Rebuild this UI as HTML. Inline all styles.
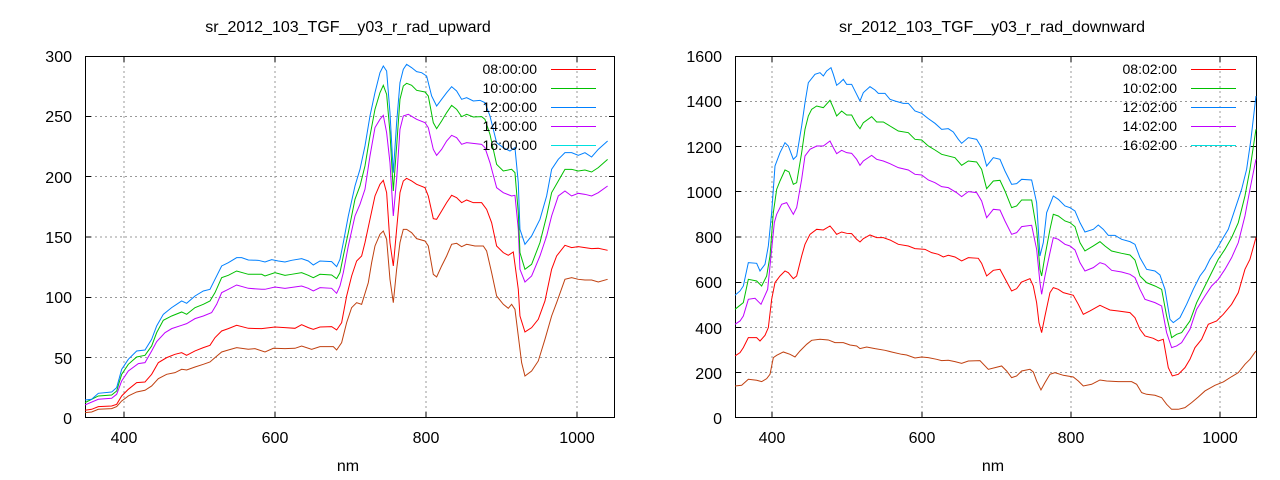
<!DOCTYPE html>
<html><head><meta charset="utf-8"><style>
html,body{margin:0;padding:0;background:#fff;}
svg{display:block;font-family:"Liberation Sans",sans-serif;}
</style></head><body>
<svg width="1280" height="480" viewBox="0 0 1280 480" xmlns="http://www.w3.org/2000/svg">
<rect width="1280" height="480" fill="#fff"/>
<g stroke="#999" stroke-dasharray="2,3" stroke-width="1" fill="none">
<path d="M124,56V418M275,56V418M426,56V418M577,56V418"/>
<path d="M85,357.5H615M85,297.5H615M85,237H615M85,176.5H615M85,116.5H615"/>
<path d="M772,56V418M922,56V418M1071,56V418M1220,56V418"/>
<path d="M735,372.5H1257M735,327.5H1257M735,282.5H1257M735,237H1257M735,191.5H1257M735,146.5H1257M735,101.5H1257"/>
</g>
<g stroke="#000" stroke-width="1" fill="none">
<rect x="85.5" y="56.5" width="529" height="361"/>
<rect x="735.5" y="56.5" width="521" height="361"/>
<path d="M124,418v-6M275,418v-6M426,418v-6M577,418v-6M124,56v6M275,56v6M426,56v6M577,56v6"/>
<path d="M85,357.5h6M85,297.5h6M85,237h6M85,176.5h6M85,116.5h6M615,357.5h-6M615,297.5h-6M615,237h-6M615,176.5h-6M615,116.5h-6"/>
<path d="M772,418v-6M922,418v-6M1071,418v-6M1220,418v-6M772,56v6M922,56v6M1071,56v6M1220,56v6"/>
<path d="M735,372.5h6M735,327.5h6M735,282.5h6M735,237h6M735,191.5h6M735,146.5h6M735,101.5h6M1257,372.5h-6M1257,327.5h-6M1257,282.5h-6M1257,237h-6M1257,191.5h-6M1257,146.5h-6M1257,101.5h-6"/>
</g>
<g font-size="16" fill="#000">
<text x="348" y="32" text-anchor="middle">sr_2012_103_TGF__y03_r_rad_upward</text>
<text x="992" y="32" text-anchor="middle">sr_2012_103_TGF__y03_r_rad_downward</text>
<text x="348" y="471" text-anchor="middle">nm</text>
<text x="993" y="471" text-anchor="middle">nm</text>
<g text-anchor="end">
<text x="72" y="424">0</text><text x="72" y="364">50</text><text x="72" y="303">100</text><text x="72" y="243">150</text><text x="72" y="183">200</text><text x="72" y="122">250</text><text x="72" y="62">300</text>
<text x="722" y="424">0</text><text x="722" y="379">200</text><text x="722" y="334">400</text><text x="722" y="288">600</text><text x="722" y="243">800</text><text x="722" y="198">1000</text><text x="722" y="153">1200</text><text x="722" y="107">1400</text><text x="722" y="62">1600</text>
</g>
<g text-anchor="middle">
<text x="124" y="443">400</text><text x="275" y="443">600</text><text x="426" y="443">800</text><text x="577" y="443">1000</text>
<text x="772" y="443">400</text><text x="922" y="443">600</text><text x="1071" y="443">800</text><text x="1220" y="443">1000</text>
</g>
</g>
<g fill="none" stroke-width="1">
<g transform="translate(85,56) scale(0.3333)">
<polyline vector-effect="non-scaling-stroke" stroke="#c04010" points="0,1070 20,1068 40,1060 80,1058 95,1052 110,1035 130,1020 155,1008 180,1003 200,990 220,968 245,955 270,950 290,940 305,942 330,933 355,925 375,918 390,905 410,888 430,882 455,875 490,880 510,878 540,888 565,877 600,878 630,877 650,870 680,880 705,872 745,872 755,882 770,860 785,800 800,755 815,740 830,745 850,680 860,620 870,570 885,535 895,525 905,550 915,670 925,740 935,640 945,560 955,520 965,520 980,530 995,548 1020,555 1030,570 1045,655 1055,663 1070,630 1085,600 1100,565 1115,562 1130,572 1145,565 1170,570 1195,570 1205,585 1220,650 1235,720 1255,745 1270,757 1280,745 1290,760 1300,840 1310,920 1320,960 1340,945 1360,915 1380,850 1400,780 1415,740 1440,670 1460,665 1480,670 1500,672 1520,672 1540,678 1568,670"/>
<polyline vector-effect="non-scaling-stroke" stroke="#ff0000" points="0,1063 20,1060 40,1052 80,1050 95,1045 110,1020 130,1000 155,980 180,978 200,955 220,920 245,905 270,895 290,890 305,898 330,885 355,875 375,868 390,845 410,825 430,818 455,808 490,817 530,818 570,813 600,815 630,817 650,806 670,815 685,820 705,813 740,812 755,822 770,800 785,720 800,660 815,615 830,600 840,560 855,490 870,420 885,385 895,373 905,410 915,560 925,630 935,520 945,410 955,375 965,367 980,375 995,385 1020,395 1030,420 1045,488 1055,490 1070,465 1085,440 1100,418 1115,425 1130,440 1145,432 1165,440 1190,440 1205,460 1220,500 1235,570 1255,590 1270,598 1285,588 1300,700 1305,780 1320,828 1340,815 1360,790 1380,735 1400,640 1415,600 1440,568 1460,575 1480,572 1500,575 1520,578 1540,577 1568,583"/>
<polyline vector-effect="non-scaling-stroke" stroke="#c000ff" points="0,1047 40,1030 80,1027 95,1015 110,975 130,945 160,923 180,920 200,885 215,857 240,830 260,818 290,808 305,803 330,788 355,780 380,770 395,745 410,710 430,700 455,687 490,697 530,700 540,700 570,693 600,697 650,690 670,697 685,705 705,695 740,697 755,712 765,690 775,650 790,570 810,480 825,445 840,400 855,300 870,215 885,190 895,178 905,230 915,320 925,480 935,370 945,220 955,180 970,175 995,190 1020,200 1030,215 1045,280 1055,298 1070,280 1085,255 1100,238 1115,245 1130,265 1145,260 1190,265 1200,275 1215,320 1235,395 1255,410 1280,420 1290,418 1300,520 1305,640 1320,678 1340,660 1365,600 1385,540 1400,480 1420,420 1440,405 1460,420 1480,412 1500,415 1520,420 1540,410 1568,390"/>
<polyline vector-effect="non-scaling-stroke" stroke="#00c000" points="0,1040 40,1020 80,1017 95,1005 110,955 130,925 155,903 180,898 200,870 215,830 235,793 260,780 290,768 305,775 330,755 355,745 375,735 390,710 410,665 430,658 455,645 490,655 530,655 540,660 570,650 600,658 620,655 650,650 670,658 685,665 705,655 740,657 755,668 765,650 775,600 790,530 810,430 825,390 840,330 855,240 870,160 885,110 895,88 905,115 915,230 925,405 935,270 945,130 955,90 965,82 980,88 995,103 1020,108 1030,120 1045,200 1055,218 1070,195 1085,170 1100,148 1115,160 1130,182 1145,175 1165,183 1190,182 1200,190 1215,235 1235,325 1255,345 1280,340 1290,350 1300,470 1305,590 1320,640 1340,625 1365,560 1385,480 1400,410 1420,375 1440,340 1460,340 1480,345 1500,342 1520,348 1540,335 1568,310"/>
<polyline vector-effect="non-scaling-stroke" stroke="#0080ff" points="0,1032 20,1030 40,1012 80,1008 95,995 110,940 130,910 155,885 180,882 200,850 215,810 235,775 260,755 275,745 290,735 305,742 330,720 355,705 375,700 390,670 410,630 430,620 455,605 470,605 490,612 520,613 540,618 560,611 580,615 600,618 620,613 650,608 670,615 685,627 705,615 740,617 755,632 765,610 775,560 790,480 810,390 825,340 840,270 855,180 870,110 885,50 895,30 905,45 915,170 925,350 935,200 945,80 955,40 965,25 980,35 995,47 1010,50 1025,60 1040,120 1055,150 1070,130 1085,110 1100,92 1115,105 1130,130 1145,125 1165,135 1185,133 1200,140 1215,180 1235,260 1255,275 1275,285 1290,275 1300,380 1305,520 1320,565 1340,540 1365,490 1385,420 1400,340 1420,310 1440,290 1460,290 1480,298 1500,290 1520,303 1540,280 1568,255"/>
</g>
<g transform="translate(735,56) scale(0.3333)">
<polyline vector-effect="non-scaling-stroke" stroke="#c04010" points="0,990 20,988 40,970 65,973 80,977 95,968 105,955 115,905 125,898 145,888 165,895 180,903 195,885 215,865 230,853 255,850 280,852 300,860 325,860 345,867 365,870 375,878 395,873 420,878 450,883 470,888 500,895 515,897 540,906 560,903 580,905 605,910 620,914 640,913 660,917 680,922 700,915 735,914 760,940 800,930 815,945 830,965 845,960 860,945 885,940 895,948 905,975 918,1002 930,980 945,955 960,950 985,958 1015,963 1030,975 1045,990 1070,985 1095,972 1115,975 1150,977 1190,977 1205,985 1220,1010 1235,1015 1260,1018 1280,1025 1295,1045 1310,1060 1330,1060 1350,1055 1370,1040 1390,1023 1410,1005 1440,988 1465,978 1490,962 1510,950 1530,925 1545,910 1563,885"/>
<polyline vector-effect="non-scaling-stroke" stroke="#ff0000" points="0,900 15,890 25,875 40,845 65,845 75,855 90,838 100,815 110,730 120,680 135,660 150,645 160,650 175,668 185,660 200,600 210,565 225,535 245,520 265,522 285,510 295,522 305,535 320,528 335,532 350,533 365,550 375,558 385,548 405,537 425,545 445,545 465,552 490,565 520,570 540,578 570,580 590,590 610,595 625,603 640,598 660,603 680,615 700,605 730,607 740,622 755,660 775,643 795,640 810,668 830,705 845,698 860,678 885,668 895,690 905,740 912,800 920,830 930,780 945,710 955,695 970,700 985,710 1015,718 1030,745 1045,775 1065,765 1095,748 1110,755 1125,762 1150,765 1185,770 1200,785 1215,820 1230,840 1255,847 1270,855 1285,850 1300,935 1312,960 1330,955 1350,935 1365,910 1380,875 1400,850 1420,805 1445,795 1465,775 1490,745 1510,710 1530,640 1545,610 1563,545"/>
<polyline vector-effect="non-scaling-stroke" stroke="#c000ff" points="0,805 15,795 25,780 40,730 60,727 78,745 98,700 108,600 118,500 125,475 140,445 155,440 175,475 185,455 200,370 210,300 225,280 245,270 265,270 285,255 295,275 305,293 320,283 335,290 350,292 365,310 375,328 385,315 410,298 425,310 445,315 465,323 490,335 520,342 540,355 560,357 580,372 600,380 620,392 640,395 665,410 680,422 700,407 725,410 740,435 755,485 775,460 795,462 810,495 830,535 845,530 860,512 890,508 905,580 915,680 920,715 930,660 945,590 955,545 970,550 990,565 1005,570 1020,582 1035,620 1050,645 1075,635 1095,620 1110,625 1130,643 1160,648 1185,655 1200,665 1215,700 1230,730 1260,740 1280,750 1295,830 1310,875 1325,870 1340,860 1365,820 1385,760 1410,720 1430,690 1450,670 1470,640 1490,605 1510,560 1530,480 1545,400 1563,310"/>
<polyline vector-effect="non-scaling-stroke" stroke="#00c000" points="0,760 15,748 25,740 40,670 65,675 80,690 95,660 105,600 115,470 125,400 135,375 150,342 162,348 175,385 185,380 200,290 210,220 220,180 230,160 245,150 265,155 285,133 295,155 305,180 320,165 335,177 350,177 365,205 375,218 385,200 410,182 425,198 445,198 465,210 490,225 520,230 540,250 560,252 580,270 600,282 620,295 660,305 680,328 700,315 725,318 740,340 755,398 775,375 795,373 810,405 830,455 845,450 860,432 890,432 905,520 915,640 920,660 930,600 945,520 955,475 970,480 990,495 1005,500 1020,512 1035,560 1050,585 1075,570 1095,557 1110,570 1130,585 1160,592 1185,597 1200,612 1215,660 1235,680 1260,690 1280,700 1295,780 1310,845 1325,835 1340,830 1365,795 1385,740 1410,690 1430,650 1450,610 1470,580 1490,545 1510,500 1530,420 1545,340 1563,220"/>
<polyline vector-effect="non-scaling-stroke" stroke="#0080ff" points="0,718 15,705 25,690 40,620 65,622 75,645 90,625 100,570 110,470 120,330 135,290 150,260 160,270 175,310 185,300 200,210 210,140 220,80 240,55 255,50 265,60 275,45 288,35 295,55 305,88 315,80 325,70 335,85 350,85 365,115 375,135 385,110 405,92 420,102 430,112 450,112 465,130 480,135 505,142 520,142 540,165 560,172 580,188 600,202 620,220 640,218 655,228 670,250 680,262 700,245 725,250 740,275 755,330 775,305 795,310 810,345 830,385 845,383 860,370 890,372 905,440 915,600 925,560 935,470 955,420 970,430 990,450 1005,455 1020,465 1035,500 1050,528 1075,520 1090,507 1105,520 1120,538 1140,538 1160,550 1185,557 1200,565 1215,605 1235,640 1260,645 1275,657 1290,700 1305,790 1315,800 1335,785 1355,745 1375,700 1395,660 1410,640 1425,610 1445,580 1465,545 1480,520 1500,460 1520,400 1535,340 1548,250 1563,120"/>
</g>
</g>
<g font-size="14" fill="#000" text-anchor="end">
<text x="537" y="74">08:00:00</text><text x="537" y="93">10:00:00</text><text x="537" y="112">12:00:00</text><text x="537" y="131">14:00:00</text><text x="537" y="150">16:00:00</text>
<text x="1177" y="74">08:02:00</text><text x="1177" y="93">10:02:00</text><text x="1177" y="112">12:02:00</text><text x="1177" y="131">14:02:00</text><text x="1177" y="150">16:02:00</text>
</g>
<g stroke-width="1" fill="none">
<line x1="551" y1="69.5" x2="596" y2="69.5" stroke="#ff0000"/>
<line x1="551" y1="88.5" x2="596" y2="88.5" stroke="#00c000"/>
<line x1="551" y1="107.5" x2="596" y2="107.5" stroke="#0080ff"/>
<line x1="551" y1="126.5" x2="596" y2="126.5" stroke="#c000ff"/>
<line x1="551" y1="145.5" x2="596" y2="145.5" stroke="#00e0e0"/>
<line x1="1191" y1="69.5" x2="1236" y2="69.5" stroke="#ff0000"/>
<line x1="1191" y1="88.5" x2="1236" y2="88.5" stroke="#00c000"/>
<line x1="1191" y1="107.5" x2="1236" y2="107.5" stroke="#0080ff"/>
<line x1="1191" y1="126.5" x2="1236" y2="126.5" stroke="#c000ff"/>
<line x1="1191" y1="145.5" x2="1236" y2="145.5" stroke="#00e0e0"/>
</g>
</svg>
</body></html>
